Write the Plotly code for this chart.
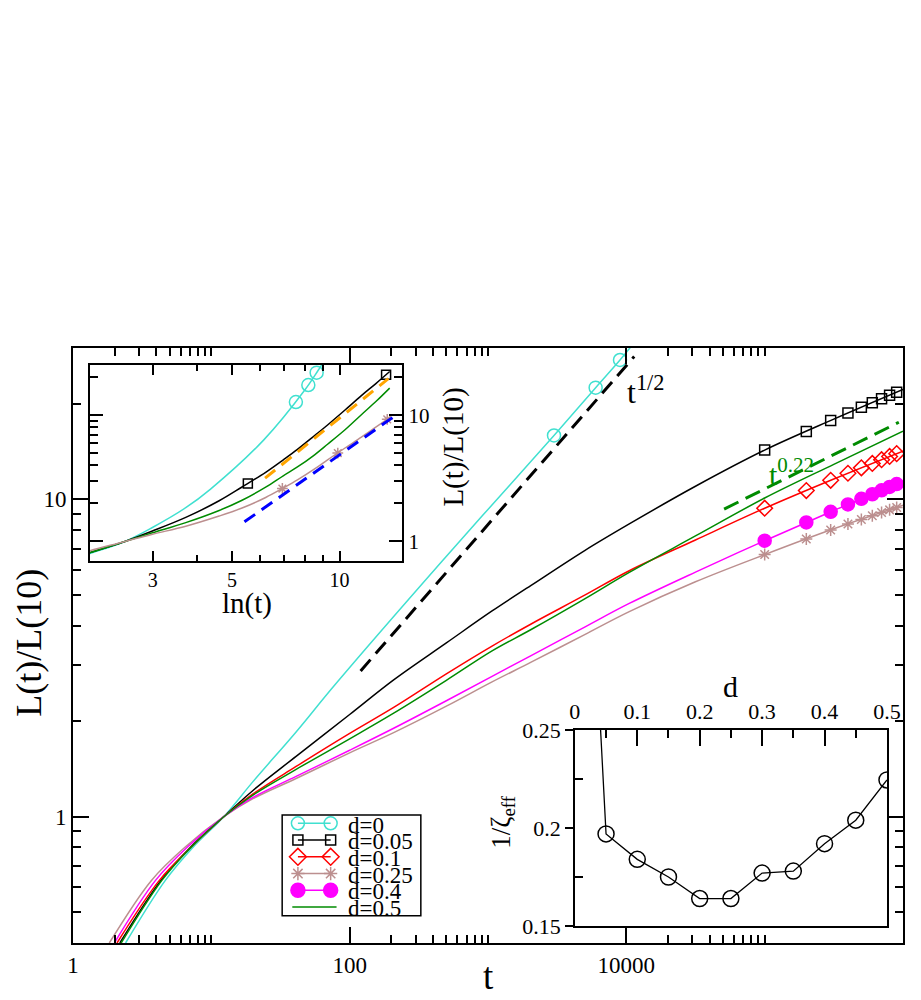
import numpy as np
import plotly.graph_objects as go

# values (main panel: L(t)/L(10) vs t, log-log)
t_d0 = [2.40, 4.65, 7.35, 12.3, 20, 41, 78, 460, 3000, 6000, 9000, 11200]
L_d0 = [0.40, 0.63, 0.80, 1.0, 1.29, 1.85, 2.60, 6.35, 15.9, 22.5, 27.5, 30.9]

# the other runs share one late-time grid after the crossing at t~12
t_grid = [12.3, 20, 41, 100, 208, 500, 1070, 2050, 5000, 10500, 31600, 1e5, 3.16e5, 1e6]

t_d005 = [2.18, 4.32, 7.04] + t_grid
L_d005 = [0.40, 0.63, 0.80, 1.0, 1.21, 1.55, 2.10, 2.70, 3.53, 4.45, 5.36, 6.90, 8.37, 11.0, 14.3, 17.9, 22.2]

t_d01 = [2.08, 4.21, 7.11] + t_grid
L_d01 = [0.40, 0.63, 0.80, 1.0, 1.18, 1.44, 1.83, 2.21, 2.82, 3.45, 4.05, 4.99, 5.96, 7.45, 9.38, 11.6, 14.2]

t_d025 = [1.83, 3.69, 6.41] + t_grid
L_d025 = [0.40, 0.63, 0.80, 1.0, 1.14, 1.32, 1.59, 1.84, 2.23, 2.66, 3.07, 3.75, 4.43, 5.50, 6.70, 8.08, 9.58]

t_d04 = [1.99, 3.95, 6.66] + t_grid
L_d04 = [0.40, 0.63, 0.80, 1.0, 1.15, 1.34, 1.62, 1.90, 2.32, 2.77, 3.22, 3.96, 4.70, 5.90, 7.41, 9.23, 11.4]

t_d05 = [2.23, 4.39, 7.11] + t_grid
L_d05 = [0.40, 0.63, 0.80, 1.0, 1.17, 1.41, 1.76, 2.12, 2.69, 3.33, 3.89, 4.86, 5.89, 7.67, 10.1, 12.9, 16.4]

# where the symbols sit on the curves
mk_t_d0 = [3000, 6000, 9000]
mk_t_late = [1e5, 2e5, 3e5, 4e5, 5e5, 6e5, 7e5, 8e5, 9e5]

# guide lines
t_half = [120, 11400]
L_half = [2.88, 28.2]
t_022 = [50900, 933000]
L_022 = [9.32, 17.5]

# upper-left inset (against ln t)
mk_lnt_d0 = [7.55, 8.18, 8.63]
mk_lnt_d005 = [5.54, 13.5]
mk_lnt_d025 = [6.92, 9.89, 13.6]
lnt_orange = [6.19, 13.7]
L_orange = [3.17, 19.5]
lnt_blue = [5.42, 14.3]
L_blue = [1.43, 9.9]

# lower-right inset: 1/zeta_eff vs d
d_vals = [0, 0.05, 0.1, 0.15, 0.2, 0.25, 0.3, 0.35, 0.4, 0.45, 0.5]
inv_zeta = [0.5, 0.197, 0.184, 0.175, 0.164, 0.164, 0.177, 0.178, 0.192, 0.204, 0.2245]

legend_labels = ["d=0", "d=0.05", "d=0.1", "d=0.25", "d=0.4", "d=0.5"]

# tick positions / labels
x_ticks = [1, 100, 10000]
x_minor = [2, 3, 4, 5, 6, 7, 8, 9, 10, 200, 300, 400, 500, 600, 700, 800, 900, 1000,
           20000, 30000, 40000, 50000, 60000, 70000, 80000, 90000, 100000]
y_ticks = [1, 10]
y_minor = [0.5, 0.6, 0.7, 0.8, 0.9, 2, 3, 4, 5, 6, 7, 8, 9, 20]
in_x_ticks = [3, 5, 10]
in_x_minor = [2, 4, 6, 7, 8, 9]
in_y_ticks = [1, 10]
in_y_minor = [2, 3, 4, 5, 6, 7, 8, 9, 20]
d_ticks = [0, 0.1, 0.2, 0.3, 0.4, 0.5]
d_minor = [0.05, 0.15, 0.25, 0.35, 0.45]
z_ticks = [0.15, 0.2, 0.25]
z_minor = [0.175, 0.225]

FONT = "Liberation Serif, Times New Roman, serif"
CYAN, RED, BROWN, MAGENTA, GREEN = "#40E0D0", "#FF0000", "#BC8F8F", "#FF00FF", "#008B00"

W, H = 921, 1000
ML, MR, MT, MB = 73, 4, 348, 57
PW, PH = W - ML - MR, H - MT - MB


def px(x):
    return (x - ML) / PW


def py(y):
    return (H - MB - y) / PH


def on_curve(tm, t, L):
    return 10 ** np.interp(np.log10(tm), np.log10(t), np.log10(L))


fig = go.Figure()

# main panel
series = [
    (t_d0, L_d0, CYAN, "circle-open", 13, mk_t_d0),
    (t_d005, L_d005, "black", "square-open", 10, mk_t_late),
    (t_d01, L_d01, RED, "diamond-open", 12, mk_t_late),
    (t_d025, L_d025, BROWN, "asterisk-open", 10, mk_t_late),
    (t_d04, L_d04, MAGENTA, "circle", 13, mk_t_late),
    (t_d05, L_d05, GREEN, None, 0, []),
]
for t, L, c, sym, sz, mt in series:
    fig.add_trace(go.Scatter(x=t, y=L, mode="lines",
                             line=dict(color=c, width=1.5, shape="spline", smoothing=1.0)))
    if sym:
        fig.add_trace(go.Scatter(x=mt, y=on_curve(mt, t, L), mode="markers",
                                 marker=dict(symbol=sym, size=sz, color=c,
                                             line=dict(color=c, width=1.5))))

fig.add_trace(go.Scatter(x=t_half, y=L_half, mode="lines",
                         line=dict(color="black", width=3, dash="15px,8px")))
fig.add_trace(go.Scatter(x=t_022, y=L_022, mode="lines",
                         line=dict(color=GREEN, width=3, dash="16px,8px")))

# upper-left inset, same runs against ln t
for t, L, c in [(t_d0, L_d0, CYAN), (t_d005, L_d005, "black"),
                (t_d05, L_d05, GREEN), (t_d025, L_d025, BROWN)]:
    fig.add_trace(go.Scatter(x=np.log(t), y=L, mode="lines", xaxis="x2", yaxis="y2",
                             line=dict(color=c, width=1.5, shape="spline", smoothing=1.0)))
for lnt, t, L, c, sym, sz in [(mk_lnt_d0, t_d0, L_d0, CYAN, "circle-open", 13),
                               (mk_lnt_d005, t_d005, L_d005, "black", "square-open", 9),
                               (mk_lnt_d025, t_d025, L_d025, BROWN, "asterisk-open", 9)]:
    fig.add_trace(go.Scatter(x=lnt, y=on_curve(np.exp(lnt), t, L), mode="markers",
                             xaxis="x2", yaxis="y2",
                             marker=dict(symbol=sym, size=sz, color=c, line=dict(color=c, width=1.5))))
fig.add_trace(go.Scatter(x=lnt_orange, y=L_orange, mode="lines", xaxis="x2", yaxis="y2",
                         line=dict(color="#FFA500", width=3, dash="13px,8px")))
fig.add_trace(go.Scatter(x=lnt_blue, y=L_blue, mode="lines", xaxis="x2", yaxis="y2",
                         line=dict(color="#0000FF", width=3, dash="13px,8px")))

# lower-right inset
fig.add_trace(go.Scatter(x=d_vals, y=inv_zeta, mode="lines+markers", xaxis="x3", yaxis="y3",
                         line=dict(color="black", width=1.3),
                         marker=dict(symbol="circle-open", size=16, color="black",
                                     line=dict(color="black", width=1.5))))

# hand-made legend (rows are tighter than plotly's own legend allows)
leg_sym = [("circle-open", 13, CYAN), ("square-open", 10, "black"), ("diamond-open", 13, RED),
           ("asterisk-open", 11, BROWN), ("circle", 14, MAGENTA), (None, 0, GREEN)]
row0, drow = 823.3, 16.75
for i, (sym, sz, c) in enumerate(leg_sym):
    yy = py(row0 + i * drow)
    if sym:
        fig.add_trace(go.Scatter(x=[px(301.7), px(335)], y=[yy, yy], xaxis="x4", yaxis="y4",
                                 mode="lines+markers", cliponaxis=False,
                                 line=dict(color=c, width=1.5),
                                 marker=dict(symbol=sym, size=sz, color=c,
                                             line=dict(color=c, width=1.5))))
    else:
        fig.add_trace(go.Scatter(x=[px(296), px(341)], y=[yy, yy], xaxis="x4", yaxis="y4",
                                 mode="lines", cliponaxis=False, line=dict(color=c, width=1.5)))

# empty traces so that the overlaid minor-tick axes get drawn
for xa, ya in [("x5", "y5"), ("x6", "y6"), ("x7", "y7")]:
    fig.add_trace(go.Scatter(x=[], y=[], xaxis=xa, yaxis=ya, hoverinfo="skip"))

TICKFONT = dict(family=FONT, size=23, color="black")


def axis(**kw):
    base = dict(showline=True, linecolor="black", showgrid=False, zeroline=False,
                ticks="inside", tickcolor="black", tickwidth=1.5, tickfont=TICKFONT,
                tickmode="array")
    base.update(kw)
    return base


def minor_axis(over, anchor, rng, vals, length, typ="linear", side=None, ticks="inside",
               mirror="ticks"):
    d = dict(overlaying=over, anchor=anchor, range=rng, type=typ, tickmode="array",
             tickvals=vals, ticktext=[""] * len(vals), ticks=ticks, ticklen=length,
             tickwidth=1.5, tickcolor="black", showline=False, showgrid=False,
             zeroline=False, showticklabels=False, mirror=mirror)
    if side:
        d["side"] = side
    return d


xr_main = [0, 6]
yr_main = [float(np.log10(0.4)), float(np.log10(30))]
xr_in = [float(np.log10(2)), float(np.log10(15))]
yr_in = [float(np.log10(0.7)), float(np.log10(25))]

fig.update_layout(
    width=W, height=H, margin=dict(l=ML, r=MR, t=MT, b=MB),
    plot_bgcolor="rgba(0,0,0,0)", paper_bgcolor="white", showlegend=False,
    font=dict(family=FONT, color="black"),
    xaxis=axis(type="log", range=xr_main, domain=[0, 1], anchor="y", linewidth=2,
               mirror="ticks", ticklen=16, tickvals=x_ticks,
               ticktext=[str(v) for v in x_ticks]),
    yaxis=axis(type="log", range=yr_main, domain=[0, 1], anchor="x", linewidth=2,
               mirror="ticks", ticklen=16, tickvals=y_ticks,
               ticktext=[str(v) for v in y_ticks]),
    xaxis2=axis(type="log", range=xr_in, domain=[px(90), px(408)], anchor="y2",
                linewidth=1.5, mirror="ticks", ticklen=10, tickvals=in_x_ticks,
                ticktext=[str(v) for v in in_x_ticks],
                tickfont=dict(family=FONT, size=20, color="black")),
    yaxis2=axis(type="log", range=yr_in, domain=[py(561), py(365)], anchor="x2",
                side="right", linewidth=1.5, mirror="ticks", ticklen=14,
                tickvals=in_y_ticks, ticktext=[str(v) for v in in_y_ticks],
                tickfont=dict(family=FONT, size=21, color="black")),
    xaxis3=axis(range=[0, 0.5], domain=[px(583.3), px(900.7)], anchor="y3", side="top",
                linewidth=1.5, mirror=True, ticklen=16, tickvals=d_ticks,
                ticktext=[str(v) for v in d_ticks],
                tickfont=dict(family=FONT, size=22, color="black")),
    yaxis3=axis(range=[0.15, 0.25], domain=[py(926), py(730)], anchor="x3",
                linewidth=1.5, mirror=True, ticks="outside", ticklen=8,
                tickvals=z_ticks, ticktext=[str(v) for v in z_ticks],
                tickfont=dict(family=FONT, size=22, color="black")),
    xaxis4=dict(visible=False, range=[0, 1], domain=[0, 1], anchor="y4", fixedrange=True),
    yaxis4=dict(visible=False, range=[0, 1], domain=[0, 1], anchor="x4", fixedrange=True),
    # shorter minor ticks on overlaid copies of the axes
    xaxis5=minor_axis("x", "y", xr_main, x_minor, 8, typ="log"),
    yaxis5=minor_axis("y", "x", yr_main, y_minor, 8, typ="log"),
    xaxis6=minor_axis("x2", "y2", xr_in, in_x_minor, 6, typ="log"),
    yaxis6=minor_axis("y2", "x2", yr_in, in_y_minor, 8, typ="log", side="right"),
    xaxis7=minor_axis("x3", "y3", [0, 0.5], d_minor, 8, side="top", mirror=False),
    yaxis7=minor_axis("y3", "x3", [0.15, 0.25], z_minor, 8, mirror=False),
)

fig.add_shape(type="rect", xref="paper", yref="paper",
              x0=px(285.7), x1=px(426.7), y0=py(915.7), y1=py(815),
              line=dict(color="black", width=1.5), fillcolor="rgba(0,0,0,0)")

notes = [
    ("L(t)/L(10)", 27.5, 642.5, 36, -90, "black", "center", "middle"),
    ("t", 496, 999, 37, 0, "black", "center", "bottom"),
    ("ln(t)", 250, 603, 29, 0, "black", "center", "middle"),
    ("L(t)/L(10)", 459, 447, 29, -90, "black", "center", "middle"),
    ("d", 742, 686, 30, 0, "black", "center", "middle"),
    ("1/ζ<sub>eff</sub>", 510, 822, 27, -90, "black", "center", "middle"),
    ("t<sup>1/2</sup>", 634, 390, 32, 0, "black", "left", "middle"),
    ("t<sup>0.22</sup>", 779, 472, 30, 0, GREEN, "left", "middle"),
]
for text, x, y, size, ang, col, xa, ya in notes:
    fig.add_annotation(text=text, x=px(x), y=py(y), xref="paper", yref="paper",
                       showarrow=False, textangle=ang, xanchor=xa, yanchor=ya,
                       font=dict(family=FONT, size=size, color=col))

for i, lab in enumerate(legend_labels):
    fig.add_annotation(text=lab, x=px(351), y=py(825 + i * 16.7), xref="paper", yref="paper",
                       showarrow=False, xanchor="left", yanchor="middle",
                       font=dict(family=FONT, size=23, color="black"))

fig.write_html("out.html", config={"displayModeBar": False},
               post_script="document.body.style.margin='0px';")
